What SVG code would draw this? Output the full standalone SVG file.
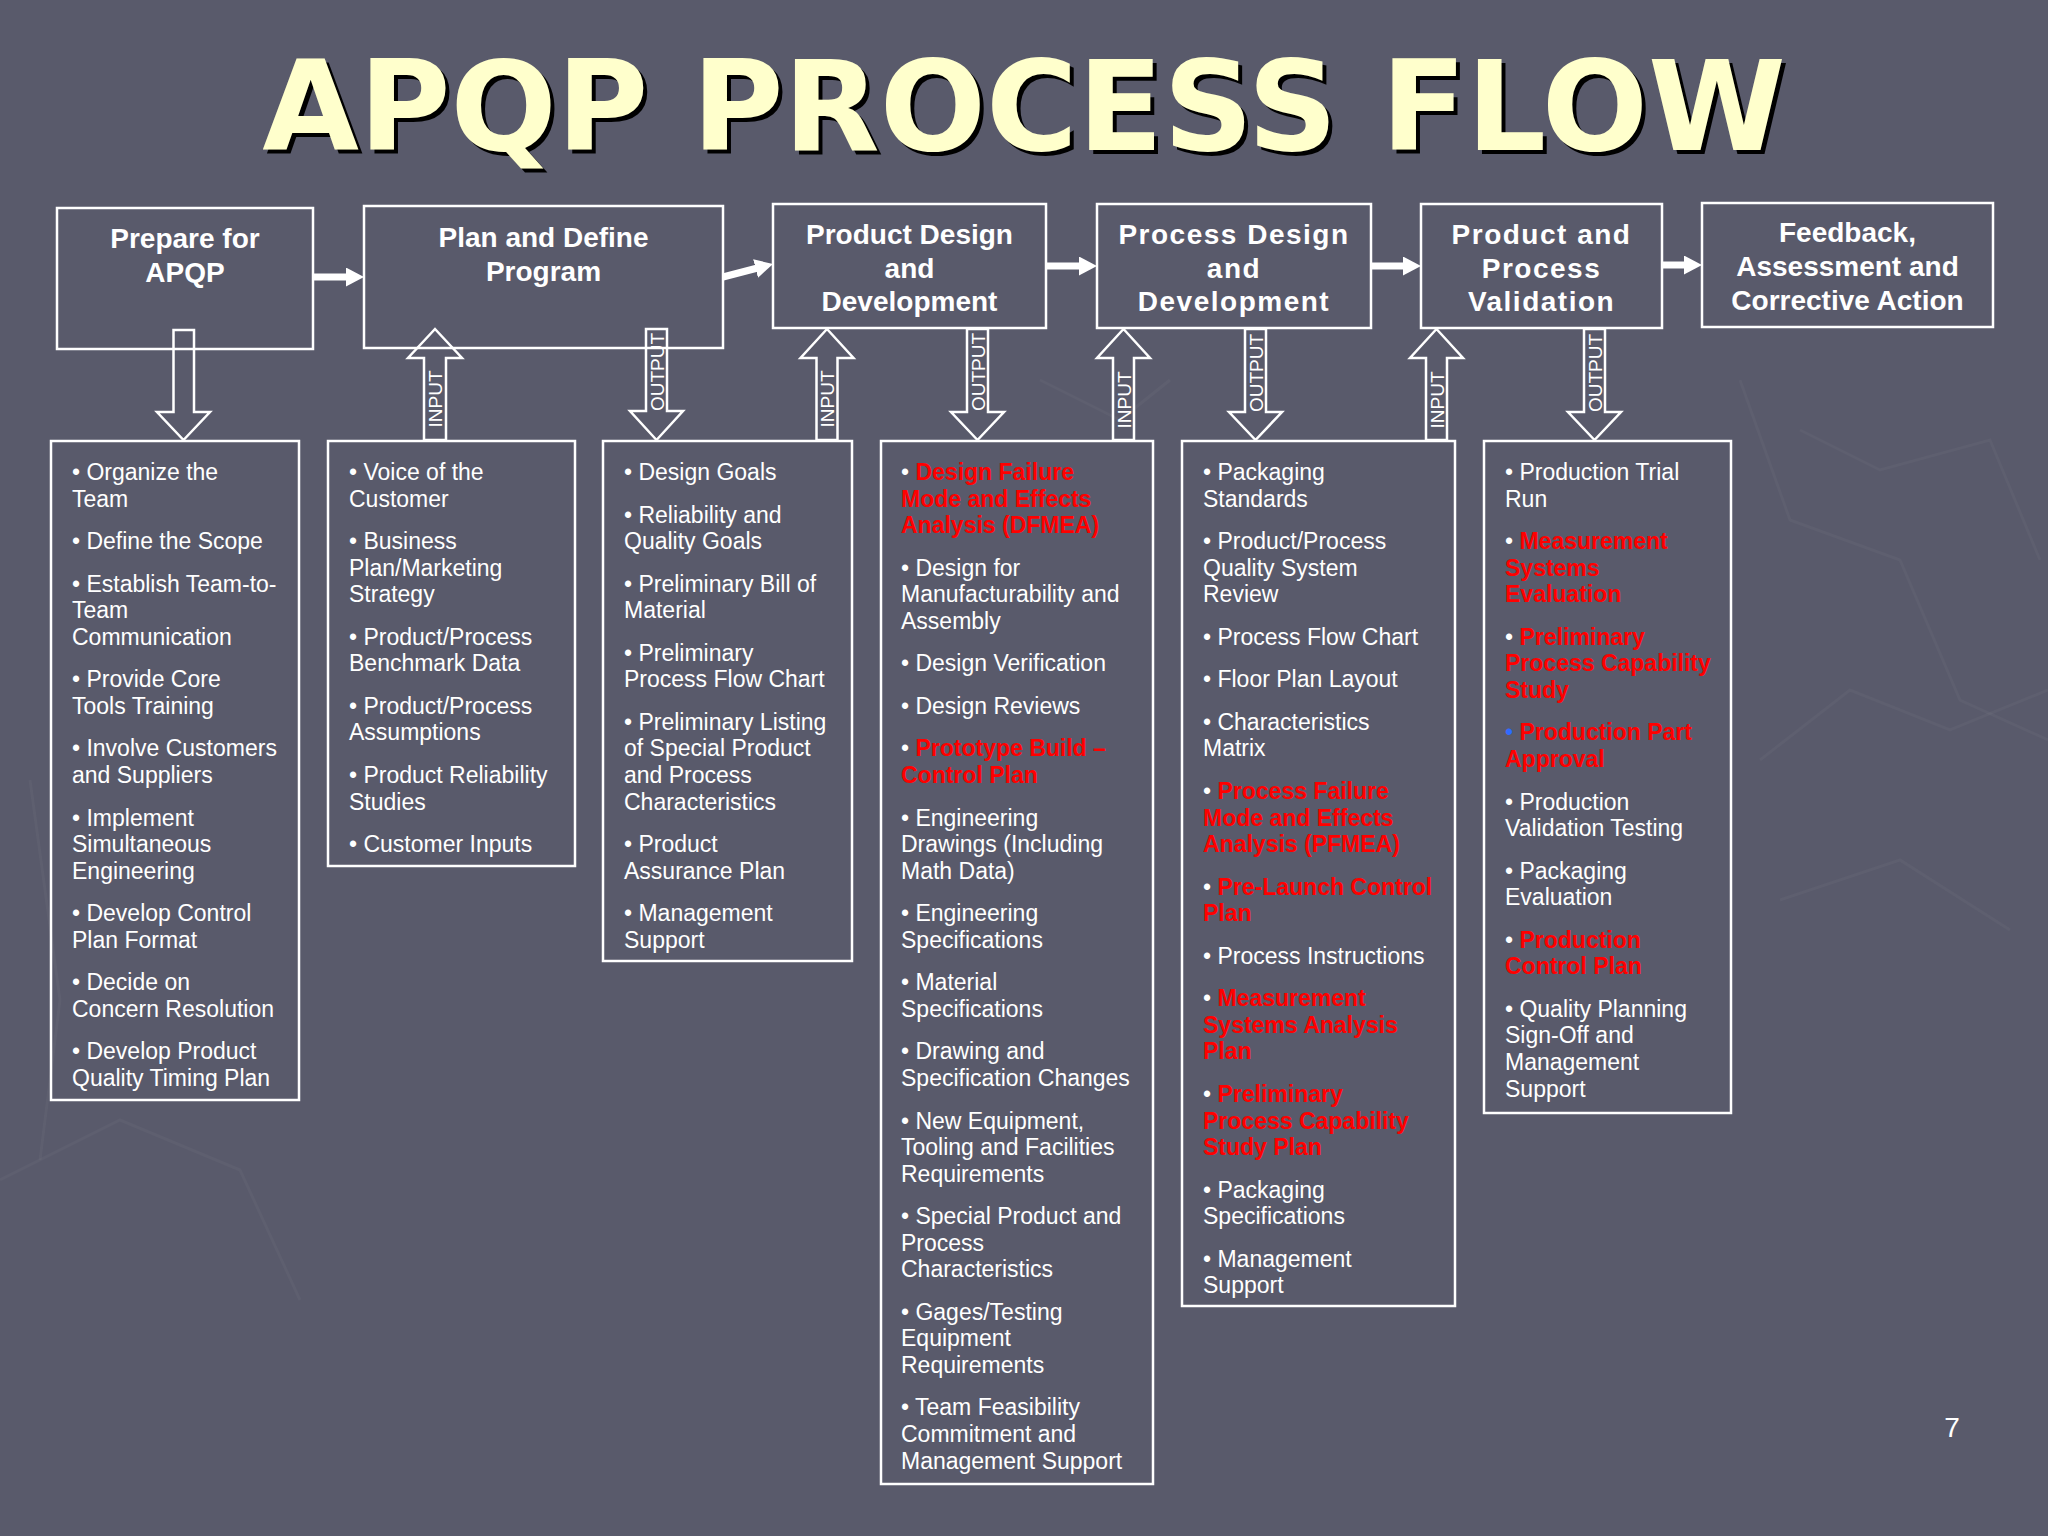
<svg xmlns="http://www.w3.org/2000/svg" width="2048" height="1536" viewBox="0 0 2048 1536">
<defs>
<style>
.bg{fill:#595A6B}
.tex{fill:none;stroke:#ffffff;stroke-opacity:0.03;stroke-width:3}
.box{fill:none;stroke:#ffffff;stroke-width:2.5}
.ttl{font-family:"Liberation Sans",Arial,sans-serif;font-weight:bold;font-size:28px;fill:#ffffff;text-anchor:middle}
.sp{letter-spacing:1.5px}
.li{font-family:"Liberation Sans",Arial,sans-serif;font-size:23px;fill:#ffffff}
.r{fill:#FF0000;font-weight:bold}
.bl{fill:#2F6BFF}
.hol{fill:none;stroke:#ffffff;stroke-width:2.5;stroke-linejoin:miter}
.lbl{font-family:"Liberation Sans",Arial,sans-serif;font-size:19px;fill:#ffffff;text-anchor:middle}
.flow{stroke:#ffffff;stroke-width:7;fill:none;marker-end:url(#ah)}
.title{font-family:"DejaVu Sans",Verdana,sans-serif;font-weight:bold;font-size:125px;text-anchor:middle}
</style>
<marker id="ah" markerUnits="userSpaceOnUse" markerWidth="18" markerHeight="19" refX="6" refY="9.5" orient="auto">
<path d="M0,0 L18,9.5 L0,19 Z" fill="#ffffff"/>
</marker>
</defs>
<rect class="bg" x="0" y="0" width="2048" height="1536"/>
<g id="texture">
<polyline class="tex" points="1740,380 1790,520 1900,560 1960,700 2048,740"/>
<polyline class="tex" points="1800,430 1880,470 1990,440 2040,560"/>
<polyline class="tex" points="1760,760 1850,690 1950,730 2048,690"/>
<polyline class="tex" points="1780,900 1900,860 2010,930"/>
<polyline class="tex" points="30,780 60,1000 40,1160"/>
<polyline class="tex" points="0,1180 120,1120 240,1170 300,1300"/>
<polyline class="tex" points="1040,380 1120,420 1170,380"/>
</g>
<g id="title">
<text class="title" x="1028" y="154" fill="#000000">APQP PROCESS FLOW</text>
<text class="title" x="1024" y="150" fill="#FFFFCC">APQP PROCESS FLOW</text>
</g>
<g id="connectors">
<path class="flow" d="M313,277 H352"/>
<path class="flow" d="M723,277 L761.4,267"/>
<path class="flow" d="M1046,266 H1085"/>
<path class="flow" d="M1371,266 H1409"/>
<path class="flow" d="M1662,265 H1690"/>
<g id="arrow-d1"><polygon class="hol" points="173.5,330 194,330 194,412 210,412 183.5,440 157,412 173.5,412"/></g>
<g id="arrow-in1"><polygon class="hol" points="435,329 462,358 446,358 446,440 424,440 424,358 408,358"/><text class="lbl" transform="translate(442,399) rotate(-90)">INPUT</text></g>
<g id="arrow-out1"><polygon class="hol" points="646,329 667,329 667,411 683,411 656.5,440 630,411 646,411"/><text class="lbl" transform="translate(663.5,372) rotate(-90)">OUTPUT</text></g>
<g id="arrow-in2"><polygon class="hol" points="827,329 853.5,358 837.5,358 837.5,440 816.5,440 816.5,358 800.5,358"/><text class="lbl" transform="translate(834,399) rotate(-90)">INPUT</text></g>
<g id="arrow-out2"><polygon class="hol" points="967,329 988,329 988,412 1004,412 977.5,440 951,412 967,412"/><text class="lbl" transform="translate(984.5,372) rotate(-90)">OUTPUT</text></g>
<g id="arrow-in3"><polygon class="hol" points="1123.5,329 1150,358 1134,358 1134,440 1113,440 1113,358 1097,358"/><text class="lbl" transform="translate(1130.5,400) rotate(-90)">INPUT</text></g>
<g id="arrow-out3"><polygon class="hol" points="1245,329 1266,329 1266,412 1282,412 1255.5,440 1229,412 1245,412"/><text class="lbl" transform="translate(1262.5,373) rotate(-90)">OUTPUT</text></g>
<g id="arrow-in4"><polygon class="hol" points="1436.5,329 1463,358 1447,358 1447,440 1426,440 1426,358 1410,358"/><text class="lbl" transform="translate(1443.5,400) rotate(-90)">INPUT</text></g>
<g id="arrow-out4"><polygon class="hol" points="1584,329 1605,329 1605,412 1621,412 1594.5,440 1568,412 1584,412"/><text class="lbl" transform="translate(1601.5,373) rotate(-90)">OUTPUT</text></g>
</g>
<g id="prepare">
<rect class="box" x="57" y="208" width="256" height="141"/>
<text class="ttl"><tspan x="185" y="248">Prepare for</tspan><tspan x="185" y="282">APQP</tspan></text>
</g>
<g id="plan">
<rect class="box" x="364" y="206" width="359" height="142"/>
<text class="ttl"><tspan x="543.5" y="247">Plan and Define</tspan><tspan x="543.5" y="281">Program</tspan></text>
</g>
<g id="product-design">
<rect class="box" x="773" y="204" width="273" height="124"/>
<text class="ttl"><tspan x="909.5" y="244">Product Design</tspan><tspan x="909.5" y="278">and</tspan><tspan x="909.5" y="311">Development</tspan></text>
</g>
<g id="process-design">
<rect class="box" x="1097" y="204" width="274" height="124"/>
<text class="ttl sp"><tspan x="1234" y="244">Process Design</tspan><tspan x="1234" y="278">and</tspan><tspan x="1234" y="311">Development</tspan></text>
</g>
<g id="validation">
<rect class="box" x="1421" y="204" width="241" height="124"/>
<text class="ttl sp"><tspan x="1541.5" y="244">Product and</tspan><tspan x="1541.5" y="278">Process</tspan><tspan x="1541.5" y="311">Validation</tspan></text>
</g>
<g id="feedback">
<rect class="box" x="1702" y="203" width="291" height="124"/>
<text class="ttl"><tspan x="1847.5" y="242">Feedback,</tspan><tspan x="1847.5" y="276">Assessment and</tspan><tspan x="1847.5" y="310">Corrective Action</tspan></text>
</g>
<g id="list-prepare">
<rect class="box" x="51" y="441" width="248" height="659"/>
<text class="li"><tspan x="72" y="480">• Organize the</tspan><tspan x="72" y="506.6">Team</tspan></text>
<text class="li"><tspan x="72" y="549.1">• Define the Scope</tspan></text>
<text class="li"><tspan x="72" y="591.7">• Establish Team-to-</tspan><tspan x="72" y="618.2">Team</tspan><tspan x="72" y="644.8">Communication</tspan></text>
<text class="li"><tspan x="72" y="687.3">• Provide Core</tspan><tspan x="72" y="713.9">Tools Training</tspan></text>
<text class="li"><tspan x="72" y="756.4">• Involve Customers</tspan><tspan x="72" y="783">and Suppliers</tspan></text>
<text class="li"><tspan x="72" y="825.5">• Implement</tspan><tspan x="72" y="852.1">Simultaneous</tspan><tspan x="72" y="878.6">Engineering</tspan></text>
<text class="li"><tspan x="72" y="921.2">• Develop Control</tspan><tspan x="72" y="947.7">Plan Format</tspan></text>
<text class="li"><tspan x="72" y="990.3">• Decide on</tspan><tspan x="72" y="1016.8">Concern Resolution</tspan></text>
<text class="li"><tspan x="72" y="1059.4">• Develop Product</tspan><tspan x="72" y="1085.9">Quality Timing Plan</tspan></text>
</g>
<g id="list-plan">
<rect class="box" x="328" y="441" width="247" height="425"/>
<text class="li"><tspan x="349" y="480">• Voice of the</tspan><tspan x="349" y="506.6">Customer</tspan></text>
<text class="li"><tspan x="349" y="549.1">• Business</tspan><tspan x="349" y="575.7">Plan/Marketing</tspan><tspan x="349" y="602.2">Strategy</tspan></text>
<text class="li"><tspan x="349" y="644.8">• Product/Process</tspan><tspan x="349" y="671.3">Benchmark Data</tspan></text>
<text class="li"><tspan x="349" y="713.9">• Product/Process</tspan><tspan x="349" y="740.4">Assumptions</tspan></text>
<text class="li"><tspan x="349" y="783">• Product Reliability</tspan><tspan x="349" y="809.5">Studies</tspan></text>
<text class="li"><tspan x="349" y="852.1">• Customer Inputs</tspan></text>
</g>
<g id="list-product-design-inputs">
<rect class="box" x="603" y="441" width="249" height="520"/>
<text class="li"><tspan x="624" y="480">• Design Goals</tspan></text>
<text class="li"><tspan x="624" y="522.6">• Reliability and</tspan><tspan x="624" y="549.1">Quality Goals</tspan></text>
<text class="li"><tspan x="624" y="591.7">• Preliminary Bill of</tspan><tspan x="624" y="618.2">Material</tspan></text>
<text class="li"><tspan x="624" y="660.8">• Preliminary</tspan><tspan x="624" y="687.3">Process Flow Chart</tspan></text>
<text class="li"><tspan x="624" y="729.9">• Preliminary Listing</tspan><tspan x="624" y="756.4">of Special Product</tspan><tspan x="624" y="783">and Process</tspan><tspan x="624" y="809.5">Characteristics</tspan></text>
<text class="li"><tspan x="624" y="852.1">• Product</tspan><tspan x="624" y="878.6">Assurance Plan</tspan></text>
<text class="li"><tspan x="624" y="921.2">• Management</tspan><tspan x="624" y="947.7">Support</tspan></text>
</g>
<g id="list-product-design-outputs">
<rect class="box" x="881" y="441" width="272" height="1043"/>
<text class="li"><tspan x="901" y="480">• </tspan><tspan class="r">Design Failure</tspan><tspan class="r" x="901" y="506.6">Mode and Effects</tspan><tspan class="r" x="901" y="533.1">Analysis (DFMEA)</tspan></text>
<text class="li"><tspan x="901" y="575.7">• Design for</tspan><tspan x="901" y="602.2">Manufacturability and</tspan><tspan x="901" y="628.8">Assembly</tspan></text>
<text class="li"><tspan x="901" y="671.3">• Design Verification</tspan></text>
<text class="li"><tspan x="901" y="713.9">• Design Reviews</tspan></text>
<text class="li"><tspan x="901" y="756.4">• </tspan><tspan class="r">Prototype Build –</tspan><tspan class="r" x="901" y="783">Control Plan</tspan></text>
<text class="li"><tspan x="901" y="825.5">• Engineering</tspan><tspan x="901" y="852.1">Drawings (Including</tspan><tspan x="901" y="878.6">Math Data)</tspan></text>
<text class="li"><tspan x="901" y="921.2">• Engineering</tspan><tspan x="901" y="947.7">Specifications</tspan></text>
<text class="li"><tspan x="901" y="990.3">• Material</tspan><tspan x="901" y="1016.8">Specifications</tspan></text>
<text class="li"><tspan x="901" y="1059.4">• Drawing and</tspan><tspan x="901" y="1085.9">Specification Changes</tspan></text>
<text class="li"><tspan x="901" y="1128.5">• New Equipment,</tspan><tspan x="901" y="1155">Tooling and Facilities</tspan><tspan x="901" y="1181.6">Requirements</tspan></text>
<text class="li"><tspan x="901" y="1224.1">• Special Product and</tspan><tspan x="901" y="1250.7">Process</tspan><tspan x="901" y="1277.2">Characteristics</tspan></text>
<text class="li"><tspan x="901" y="1319.8">• Gages/Testing</tspan><tspan x="901" y="1346.3">Equipment</tspan><tspan x="901" y="1372.9">Requirements</tspan></text>
<text class="li"><tspan x="901" y="1415.4">• Team Feasibility</tspan><tspan x="901" y="1442">Commitment and</tspan><tspan x="901" y="1468.5">Management Support</tspan></text>
</g>
<g id="list-process-design-outputs">
<rect class="box" x="1182" y="441" width="273" height="865"/>
<text class="li"><tspan x="1203" y="480">• Packaging</tspan><tspan x="1203" y="506.6">Standards</tspan></text>
<text class="li"><tspan x="1203" y="549.1">• Product/Process</tspan><tspan x="1203" y="575.7">Quality System</tspan><tspan x="1203" y="602.2">Review</tspan></text>
<text class="li"><tspan x="1203" y="644.8">• Process Flow Chart</tspan></text>
<text class="li"><tspan x="1203" y="687.3">• Floor Plan Layout</tspan></text>
<text class="li"><tspan x="1203" y="729.9">• Characteristics</tspan><tspan x="1203" y="756.4">Matrix</tspan></text>
<text class="li"><tspan x="1203" y="799">• </tspan><tspan class="r">Process Failure</tspan><tspan class="r" x="1203" y="825.5">Mode and Effects</tspan><tspan class="r" x="1203" y="852.1">Analysis (PFMEA)</tspan></text>
<text class="li"><tspan x="1203" y="894.6">• </tspan><tspan class="r">Pre-Launch Control</tspan><tspan class="r" x="1203" y="921.2">Plan</tspan></text>
<text class="li"><tspan x="1203" y="963.7">• Process Instructions</tspan></text>
<text class="li"><tspan x="1203" y="1006.3">• </tspan><tspan class="r">Measurement</tspan><tspan class="r" x="1203" y="1032.8">Systems Analysis</tspan><tspan class="r" x="1203" y="1059.4">Plan</tspan></text>
<text class="li"><tspan x="1203" y="1101.9">• </tspan><tspan class="r">Preliminary</tspan><tspan class="r" x="1203" y="1128.5">Process Capability</tspan><tspan class="r" x="1203" y="1155">Study Plan</tspan></text>
<text class="li"><tspan x="1203" y="1197.6">• Packaging</tspan><tspan x="1203" y="1224.1">Specifications</tspan></text>
<text class="li"><tspan x="1203" y="1266.7">• Management</tspan><tspan x="1203" y="1293.2">Support</tspan></text>
</g>
<g id="list-validation-outputs">
<rect class="box" x="1484" y="441" width="247" height="672"/>
<text class="li"><tspan x="1505" y="480">• Production Trial</tspan><tspan x="1505" y="506.6">Run</tspan></text>
<text class="li"><tspan x="1505" y="549.1">• </tspan><tspan class="r">Measurement</tspan><tspan class="r" x="1505" y="575.7">Systems</tspan><tspan class="r" x="1505" y="602.2">Evaluation</tspan></text>
<text class="li"><tspan x="1505" y="644.8">• </tspan><tspan class="r">Preliminary</tspan><tspan class="r" x="1505" y="671.3">Process Capability</tspan><tspan class="r" x="1505" y="697.9">Study</tspan></text>
<text class="li"><tspan class="bl" x="1505" y="740.4">• </tspan><tspan class="r">Production Part</tspan><tspan class="r" x="1505" y="767">Approval</tspan></text>
<text class="li"><tspan x="1505" y="809.5">• Production</tspan><tspan x="1505" y="836.1">Validation Testing</tspan></text>
<text class="li"><tspan x="1505" y="878.6">• Packaging</tspan><tspan x="1505" y="905.2">Evaluation</tspan></text>
<text class="li"><tspan x="1505" y="947.7">• </tspan><tspan class="r">Production</tspan><tspan class="r" x="1505" y="974.3">Control Plan</tspan></text>
<text class="li"><tspan x="1505" y="1016.8">• Quality Planning</tspan><tspan x="1505" y="1043.4">Sign-Off and</tspan><tspan x="1505" y="1069.9">Management</tspan><tspan x="1505" y="1096.5">Support</tspan></text>
</g>
<g id="page-number">
<text x="1952" y="1437" font-family="'Liberation Sans',Arial,sans-serif" font-size="28" fill="#ffffff" text-anchor="middle">7</text>
</g>
</svg>
